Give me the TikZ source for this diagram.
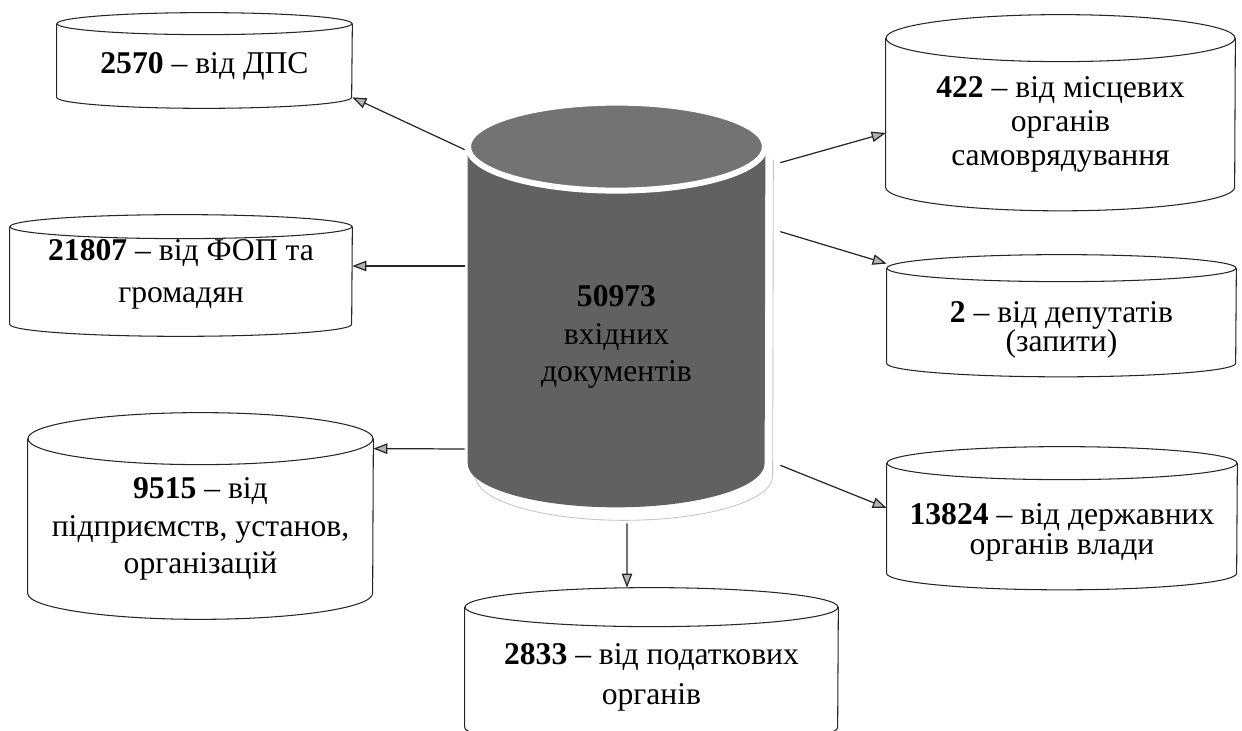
\documentclass[tikz,border=0pt]{standalone}
\usepackage{fontspec}
\setmainfont{Liberation Serif}
\usetikzlibrary{arrows.meta,backgrounds}

\begin{document}
\begin{tikzpicture}[
  every node/.style={align=center,inner sep=0pt,font=\fontsize{18}{23}\selectfont},
  drum/.style={draw=black!85,line width=0.6pt},
  arr/.style={-{Triangle[length=8pt,width=6pt,fill=gray!60]},draw=black!85,line width=0.7pt}]
\useasboundingbox (0,0) rectangle (24.84,14.62);
\node[minimum width=5.94cm,minimum height=5.44cm,font=\fontsize{18}{21.3}\selectfont] (main) at (12.33,8.08) {\rule{0pt}{23.6pt}\textbf{50973}\\вхідних\\документів};
\node[minimum width=5.90cm,minimum height=1.24cm] (dps) at (4.09,13.30) {\textbf{2570} – від ДПС};
\node[minimum width=6.84cm,minimum height=1.66cm,font=\fontsize{18}{24.4}\selectfont] (fop) at (3.62,8.99) {\textbf{21807} – від ФОП та\\громадян\rule[-12pt]{0pt}{0pt}};
\node[minimum width=6.90cm,minimum height=2.56cm,font=\fontsize{18}{21.3}\selectfont] (org) at (4.01,4.04) {\textbf{9515} – від\\підприємств, установ,\\організацій};
\node[minimum width=6.98cm,minimum height=2.50cm,font=\fontsize{18}{19.3}\selectfont] (mis) at (21.21,12.13) {\textbf{422} – від місцевих\\органів\\самоврядування};
\node[minimum width=6.98cm,minimum height=1.62cm,font=\fontsize{18}{16.4}\selectfont] (dep) at (21.23,8.17) {\rule{0pt}{20.7pt}\textbf{2} – від депутатів\\(запити)};
\node[minimum width=7.00cm,minimum height=1.86cm,font=\fontsize{18}{17}\selectfont] (der) at (21.24,4.09) {\rule{0pt}{19pt}\textbf{13824} – від державних\\органів влади};
\node[minimum width=7.46cm,minimum height=2.00cm,font=\fontsize{18}{22.7}\selectfont] (pod) at (13.03,1.08) {\textbf{2833} – від податкових\\органів};
\foreach \nm/\rx/\ry in {dps/2.95/0.22, fop/3.42/0.24, org/3.45/0.52, mis/3.49/0.47, dep/3.49/0.27, der/3.50/0.33, pod/3.73/0.39}{
  \draw[drum] ([yshift=\ry cm]\nm.north west) -- (\nm.south west) arc[start angle=180,end angle=360,x radius=\rx cm,y radius=\ry cm] -- ([yshift=\ry cm]\nm.north east);
  \draw[drum] ([yshift=\ry cm]\nm.north) ellipse[x radius=\rx cm,y radius=\ry cm];
}
\begin{scope}[on background layer]
\filldraw[draw=gray!45,fill=white,line width=0.5pt] ([xshift=0.16cm,yshift=0.62cm]main.north west) -- ([xshift=0.16cm,yshift=-0.26cm]main.south west) arc[start angle=180,end angle=360,x radius=2.97cm,y radius=0.88cm] -- ([xshift=0.16cm,yshift=0.62cm]main.north east);
\fill[black!62] ([yshift=0.88cm]main.north west) -- (main.south west) arc[start angle=180,end angle=360,x radius=2.97cm,y radius=0.88cm] -- ([yshift=0.88cm]main.north east) -- cycle;
\filldraw[fill=black!55,draw=white,line width=3.4pt] ([yshift=0.88cm]main.north) ellipse[x radius=2.97cm,y radius=0.88cm];
\end{scope}
\draw[arr] ([xshift=-0.06cm,yshift=0.82cm]main.north west) -- (dps.south east);
\draw[arr] ([xshift=-0.06cm,yshift=1.22cm]main.west) -- ([yshift=0.31cm]fop.east);
\draw[arr] ([xshift=-0.06cm,yshift=-2.44cm]main.west) -- ([yshift=0.32cm]org.north east);
\draw[arr] ([xshift=0.3cm,yshift=0.56cm]main.north east) -- ([yshift=-0.17cm]mis.west);
\draw[arr] ([xshift=0.3cm,yshift=-0.82cm]main.north east) -- ([yshift=0.36cm]dep.north west);
\draw[arr] ([xshift=0.3cm,yshift=-0.04cm]main.south east) -- ([yshift=0.37cm]der.west);
\draw[arr] ([xshift=0.21cm,yshift=-1.2cm]main.south) -- ([xshift=-0.49cm,yshift=0.78cm]pod.north);
\end{tikzpicture}
\end{document}
